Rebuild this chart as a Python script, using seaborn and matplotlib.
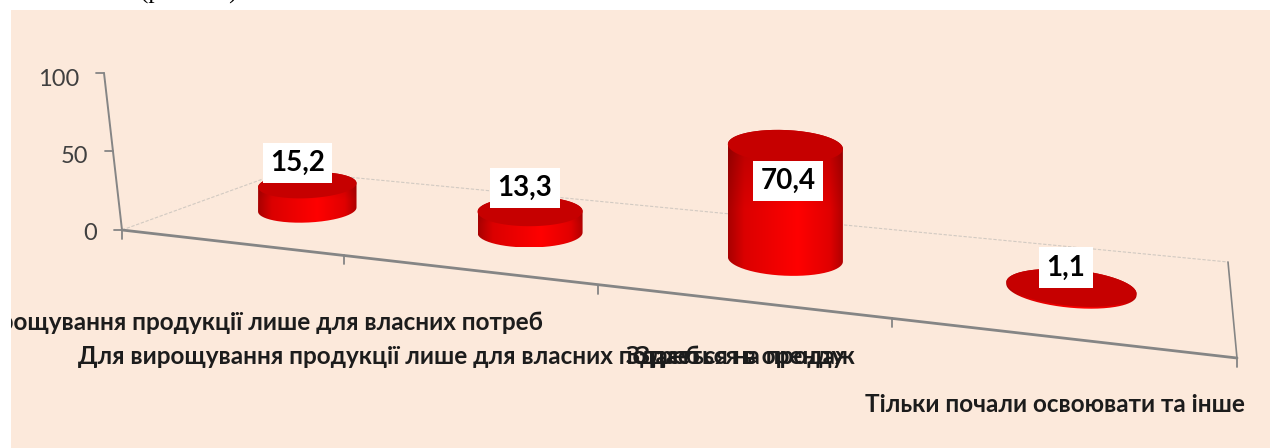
import matplotlib
matplotlib.use("Agg")
import matplotlib.pyplot as plt
from matplotlib.patches import PathPatch, Polygon
from matplotlib.path import Path
import numpy as np
import pandas as pd
import seaborn as sns

# chart values
categories = [
    "Для вирощування продукції лише для власних потреб",
    "Для вирощування продукції лише для власних потреб",
    "Здається в оренду",
    "Тільки почали освоювати та інше",
]
extra_label = "Здається на продаж"
values = [15.2, 13.3, 70.4, 1.1]
value_labels = ["15,2", "13,3", "70,4", "1,1"]
y_ticks = [0, 50, 100]

# layout, in reference pixels
W, H = 1270, 448
PANEL = "#FCE9DB"
FLOOR = [(122, 230), (1237, 358), (1228, 262), (250, 171)]
BACK_CORNER = (285, 171)
Y_TOP = (104, 73)
PX_PER_UNIT = 1.6
BAR_SHIFT = [15, 13, 12, 3]
LABEL_OFFSET = [(-10, -22), (-5, -23), (3, 35), (-5, -20)]
CAT_POS = [(232, 322), (389, 357), (740, 357), (1055, 405)]

sns.set_theme(style="white")
plt.rcParams["font.family"] = ["Lato", "Noto Sans", "DejaVu Sans"]


def floor_homography(corners, n):
    src = [(0, 0), (n, 0), (n, 1), (0, 1)]
    rows, rhs = [], []
    for (u, v), (x, y) in zip(src, corners):
        rows.append([u, v, 1, 0, 0, 0, -u * x, -v * x])
        rows.append([0, 0, 0, u, v, 1, -u * y, -v * y])
        rhs += [x, y]
    return np.append(np.linalg.solve(np.array(rows, float), np.array(rhs, float)), 1).reshape(3, 3)


def project(mat, u, v):
    p = mat @ np.vstack([u, v, np.ones_like(u)])
    return p[0] / p[2], p[1] / p[2]


def shade():
    across = np.interp(np.linspace(0, 1, 160), [0, 0.14, 0.6, 0.88, 1], [0.66, 0.86, 1, 0.88, 0.68])
    down = np.interp(np.linspace(0, 1, 80), [0, 0.55, 1], [0.82, 1, 1])
    red = np.outer(down, across)
    return np.dstack([red, np.zeros_like(red), np.zeros_like(red)])


fig = plt.figure(figsize=(W / 100, H / 100), dpi=100, facecolor="white")
ax = fig.add_axes([11 / W, 0, 1 - 11 / W, 1 - 10 / H], facecolor=PANEL)
ax.axis("off")
ax.add_patch(plt.Rectangle((11, 10), W, H, color=PANEL, zorder=0))

# bar geometry comes from a seaborn barplot on a hidden helper axes
df = pd.DataFrame({"pos": range(len(values)), "share": values})
helper = fig.add_axes([0, 0, 0.1, 0.1])
sns.barplot(data=df, x="pos", y="share", width=0.41, ax=helper)
bars = [(p.get_x() + p.get_width() / 2, p.get_width() / 2, p.get_height()) for p in helper.patches]
helper.set_visible(False)

n = len(values)
mat = floor_homography(FLOOR, n)

# back edges of the floor
back_x = [FLOOR[0][0], BACK_CORNER[0], FLOOR[2][0]]
back_y = [FLOOR[0][1], BACK_CORNER[1], FLOOR[2][1]]
ax.plot(back_x, back_y, color="#D2CAC2", lw=0.8, ls=(0, (3, 1.5)), zorder=1)

# axes
grey = "#858585"
ax.plot([FLOOR[0][0], FLOOR[1][0]], [FLOOR[0][1], FLOOR[1][1]], color=grey, lw=2, zorder=1)
ax.plot([FLOOR[2][0], FLOOR[1][0]], [FLOOR[2][1], FLOOR[1][1]], color=grey, lw=1.2, zorder=1)
ax.plot([FLOOR[0][0], Y_TOP[0]], [FLOOR[0][1], Y_TOP[1]], color=grey, lw=1.4, zorder=1)
for t in y_ticks:
    f = t / y_ticks[-1]
    tx = FLOOR[0][0] + (Y_TOP[0] - FLOOR[0][0]) * f
    ty = FLOOR[0][1] + (Y_TOP[1] - FLOOR[0][1]) * f
    ax.plot([tx - 8, tx], [ty, ty], color=grey, lw=1.3, zorder=1)
    ax.text(tx - 25, ty + 3.5 + 3 * f, str(t), ha="right", va="center", fontsize=17, color="#404040")
for i in range(n + 1):
    tx, ty = project(mat, np.array([float(i)]), np.array([0.0]))
    ax.plot([tx[0], tx[0]], [ty[0], ty[0] + 9], color=grey, lw=1.3, zorder=1)

# cylinders
theta = np.linspace(0, 2 * np.pi, 241)[:-1]
for (cx, half, val), shift, text, off in zip(bars, BAR_SHIFT, value_labels, LABEL_OFFSET):
    bx, by = project(mat, cx + 0.5 + half * np.cos(theta), 0.5 + 0.2 * np.sin(theta))
    bx = bx + shift
    top_y = by - val * PX_PER_UNIT
    # body outline: near half of the base, then the far half of the top
    left, right = np.argmin(bx), np.argmax(bx)
    arc_a = np.roll(np.arange(len(bx)), -right)[: ((left - right) % len(bx)) + 1]
    arc_b = np.roll(np.arange(len(bx)), -left)[: ((right - left) % len(bx)) + 1]
    if by[arc_a].mean() < by[arc_b].mean():
        arc_a, arc_b = arc_b, arc_a
    body = np.vstack([
        np.column_stack([bx[arc_a], by[arc_a]]),
        np.column_stack([bx[arc_b], top_y[arc_b]]),
    ])
    if bx[arc_a[0]] < bx[arc_a[-1]]:
        body = np.vstack([
            np.column_stack([bx[arc_a[::-1]], by[arc_a[::-1]]]),
            np.column_stack([bx[arc_b[::-1]], top_y[arc_b[::-1]]]),
        ])
    img = ax.imshow(
        shade(), extent=(bx.min(), bx.max(), by.max(), top_y.min()),
        aspect="auto", interpolation="bilinear", zorder=2,
    )
    clip = PathPatch(Path(np.vstack([body, body[0]])), transform=ax.transData, fc="none", ec="none")
    ax.add_patch(clip)
    img.set_clip_path(clip)
    ax.add_patch(Polygon(np.column_stack([bx, top_y]), closed=True, fc="#C60000", ec="none", zorder=3))
    ax.text(
        bx.mean() + off[0], top_y.mean() + off[1], text,
        ha="center", va="center", fontsize=20, fontweight="bold", color="black", zorder=5,
        bbox=dict(boxstyle="square,pad=0.26", fc="white", ec="none"),
    )

# category labels overlap in the source chart
for label, (lx, ly) in zip(categories, CAT_POS):
    ax.text(lx, ly, label, ha="center", va="center", fontsize=17.5, fontweight="bold",
            color="#1C1C1C", clip_on=True, zorder=4)
ax.text(CAT_POS[2][0], CAT_POS[2][1], extra_label, ha="center", va="center", fontsize=17.5,
        fontweight="bold", color="#1C1C1C", zorder=4)

# tail of the caption line above the panel, cut by the page edge
fig.text(140 / W, 1 + 1 / H, "(рис. 3.1)", family=["Liberation Serif"], fontsize=18,
         ha="left", va="baseline", color="black")

ax.set_xlim(11, W)
ax.set_ylim(H, 10)

fig.savefig("out.png", dpi=100)
